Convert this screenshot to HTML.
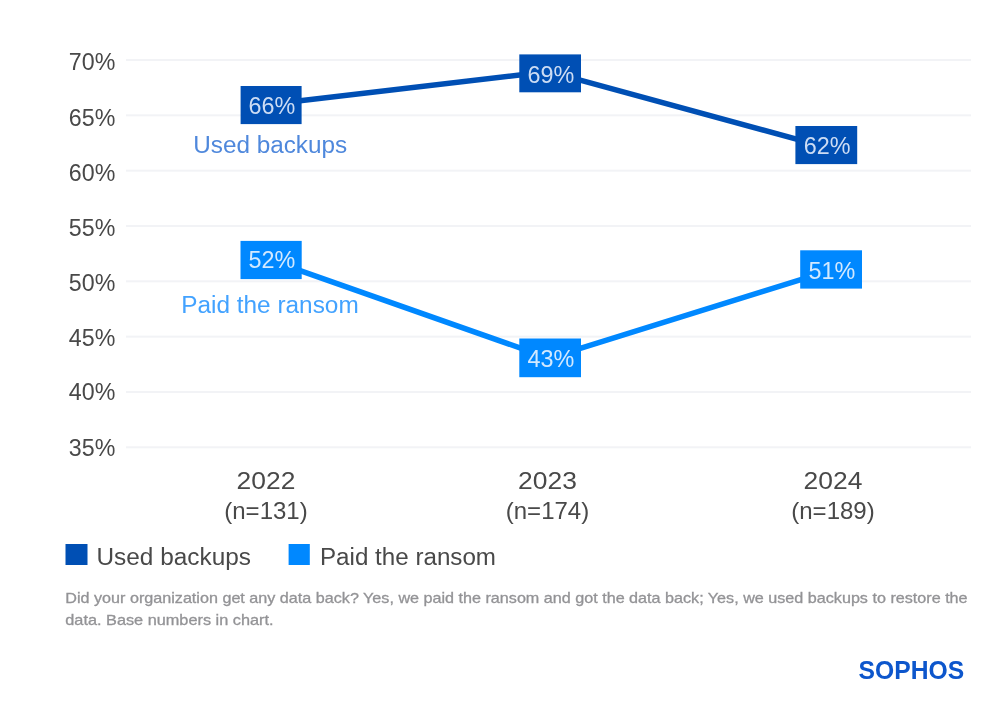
<!DOCTYPE html>
<html lang="en"><head><meta charset="utf-8"><title>Chart</title>
<style>html,body{margin:0;padding:0;background:#fff}svg{display:block}</style></head>
<body>
<svg width="1000" height="701" viewBox="0 0 1000 701" font-family="'Liberation Sans', sans-serif">
<defs><filter id="soft" x="0" y="0" width="1000" height="701" filterUnits="userSpaceOnUse"><feGaussianBlur stdDeviation="0.7"/></filter></defs>
<rect width="1000" height="701" fill="#ffffff"/>
<g filter="url(#soft)">
<rect x="126" y="59.00" width="845" height="2" fill="#F2F3F6"/>
<rect x="126" y="114.33" width="845" height="2" fill="#F2F3F6"/>
<rect x="126" y="169.66" width="845" height="2" fill="#F2F3F6"/>
<rect x="126" y="224.99" width="845" height="2" fill="#F2F3F6"/>
<rect x="126" y="280.31" width="845" height="2" fill="#F2F3F6"/>
<rect x="126" y="335.64" width="845" height="2" fill="#F2F3F6"/>
<rect x="126" y="390.97" width="845" height="2" fill="#F2F3F6"/>
<rect x="126" y="446.30" width="845" height="2" fill="#F2F3F6"/>
<text x="115.3" y="69.70" font-size="24.6" fill="#484848" text-anchor="end" textLength="46.5" lengthAdjust="spacingAndGlyphs">70%</text>
<text x="115.3" y="125.90" font-size="24.6" fill="#484848" text-anchor="end" textLength="46.5" lengthAdjust="spacingAndGlyphs">65%</text>
<text x="115.3" y="181.20" font-size="24.6" fill="#484848" text-anchor="end" textLength="46.5" lengthAdjust="spacingAndGlyphs">60%</text>
<text x="115.3" y="235.90" font-size="24.6" fill="#484848" text-anchor="end" textLength="46.5" lengthAdjust="spacingAndGlyphs">55%</text>
<text x="115.3" y="290.70" font-size="24.6" fill="#484848" text-anchor="end" textLength="46.5" lengthAdjust="spacingAndGlyphs">50%</text>
<text x="115.3" y="345.90" font-size="24.6" fill="#484848" text-anchor="end" textLength="46.5" lengthAdjust="spacingAndGlyphs">45%</text>
<text x="115.3" y="400.20" font-size="24.6" fill="#484848" text-anchor="end" textLength="46.5" lengthAdjust="spacingAndGlyphs">40%</text>
<text x="115.3" y="455.70" font-size="24.6" fill="#484848" text-anchor="end" textLength="46.5" lengthAdjust="spacingAndGlyphs">35%</text>
<polyline points="266,104.76 549,71.57 833,149.03" fill="none" stroke="#0050B4" stroke-width="5.5" stroke-linejoin="round"/>
<polyline points="266,258.58 549,358.17 833,269.65" fill="none" stroke="#0088FF" stroke-width="5.5" stroke-linejoin="round"/>
<rect x="240.6" y="86" width="61.0" height="38.1" fill="#0050B4"/>
<text x="272.0" y="114.4" font-size="24.5" fill="#CCDCF4" text-anchor="middle" textLength="46.8" lengthAdjust="spacingAndGlyphs">66%</text>
<rect x="519.3" y="54.4" width="61.7" height="37.9" fill="#0050B4"/>
<text x="551.0" y="82.8" font-size="24.5" fill="#CCDCF4" text-anchor="middle" textLength="46.8" lengthAdjust="spacingAndGlyphs">69%</text>
<rect x="795.4" y="126" width="61.8" height="38.1" fill="#0050B4"/>
<text x="827.2" y="154.4" font-size="24.5" fill="#CCDCF4" text-anchor="middle" textLength="46.8" lengthAdjust="spacingAndGlyphs">62%</text>
<rect x="240.5" y="240.9" width="61.2" height="38.2" fill="#0088FF"/>
<text x="272.0" y="268.4" font-size="24.5" fill="#D2E9FF" text-anchor="middle" textLength="46.8" lengthAdjust="spacingAndGlyphs">52%</text>
<rect x="519.3" y="338.5" width="61.7" height="38.7" fill="#0088FF"/>
<text x="551.0" y="366.9" font-size="24.5" fill="#D2E9FF" text-anchor="middle" textLength="46.8" lengthAdjust="spacingAndGlyphs">43%</text>
<rect x="800.2" y="250.3" width="61.8" height="38.3" fill="#0088FF"/>
<text x="832.0" y="278.7" font-size="24.5" fill="#D2E9FF" text-anchor="middle" textLength="46.8" lengthAdjust="spacingAndGlyphs">51%</text>
<text x="193.2" y="152.9" font-size="23" fill="#4F88DC" textLength="154" lengthAdjust="spacingAndGlyphs">Used backups</text>
<text x="181.2" y="312.6" font-size="23" fill="#42A2FF" textLength="177.5" lengthAdjust="spacingAndGlyphs">Paid the ransom</text>
<text x="266" y="488.9" font-size="24.5" fill="#484848" text-anchor="middle" textLength="58.8" lengthAdjust="spacingAndGlyphs">2022</text>
<text x="266" y="518.8" font-size="24.5" fill="#484848" text-anchor="middle" textLength="83.5" lengthAdjust="spacingAndGlyphs">(n=131)</text>
<text x="547.5" y="488.9" font-size="24.5" fill="#484848" text-anchor="middle" textLength="58.8" lengthAdjust="spacingAndGlyphs">2023</text>
<text x="547.5" y="518.8" font-size="24.5" fill="#484848" text-anchor="middle" textLength="83.5" lengthAdjust="spacingAndGlyphs">(n=174)</text>
<text x="833" y="488.9" font-size="24.5" fill="#484848" text-anchor="middle" textLength="58.8" lengthAdjust="spacingAndGlyphs">2024</text>
<text x="833" y="518.8" font-size="24.5" fill="#484848" text-anchor="middle" textLength="83.5" lengthAdjust="spacingAndGlyphs">(n=189)</text>
<rect x="65.5" y="544" width="22" height="21" fill="#0050B4"/>
<text x="96.5" y="564.5" font-size="23" fill="#484848" textLength="154.5" lengthAdjust="spacingAndGlyphs">Used backups</text>
<rect x="288.6" y="544" width="21.2" height="21" fill="#0088FF"/>
<text x="320" y="564.5" font-size="23" fill="#484848" textLength="176" lengthAdjust="spacingAndGlyphs">Paid the ransom</text>
<text x="65.3" y="603" font-size="14.5" fill="#939396" stroke="#939396" stroke-width="0.3" textLength="902.3" lengthAdjust="spacingAndGlyphs">Did your organization get any data back? Yes, we paid the ransom and got the data back; Yes, we used backups to restore the</text>
<text x="65.3" y="624.5" font-size="14.5" fill="#939396" stroke="#939396" stroke-width="0.3" textLength="208.2" lengthAdjust="spacingAndGlyphs">data. Base numbers in chart.</text>
<text x="858.6" y="679.2" font-size="25.8" font-weight="bold" fill="#0B57CC" textLength="105.5" lengthAdjust="spacingAndGlyphs">SOPHOS</text>
</g>
</svg>
</body></html>
